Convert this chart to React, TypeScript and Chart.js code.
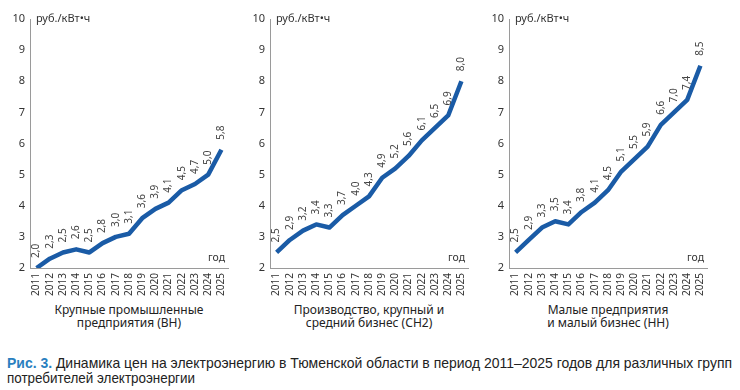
import React, { useEffect, useRef } from "react";
import { Chart, registerables } from "chart.js";

Chart.register(...registerables);

const years = ["2011","2012","2013","2014","2015","2016","2017","2018","2019","2020","2021","2022","2023","2024","2025"];
const seriesVN = [2.0, 2.3, 2.5, 2.6, 2.5, 2.8, 3.0, 3.1, 3.6, 3.9, 4.1, 4.5, 4.7, 5.0, 5.8];
const seriesSN2 = [2.5, 2.9, 3.2, 3.4, 3.3, 3.7, 4.0, 4.3, 4.9, 5.2, 5.6, 6.1, 6.5, 6.9, 8.0];
const seriesNN = [2.5, 2.9, 3.3, 3.5, 3.4, 3.8, 4.1, 4.5, 5.1, 5.5, 5.9, 6.6, 7.0, 7.4, 8.5];
const subtitles = [
  ["Крупные промышленные", "предприятия (ВН)"],
  ["Производство, крупный и", "средний бизнес (СН2)"],
  ["Малые  предприятия", "и малый бизнес (НН)"],
];
const unitLabel = "руб./кВт•ч";
const xUnitLabel = "год";
const captionLead = "Рис. 3.";
const captionLine1 = " Динамика цен на электроэнергию в Тюменской области в период 2011–2025 годов для различных групп";
const captionLine2 = "потребителей электроэнергии";

const FONT = "'Noto Sans', 'Open Sans', sans-serif";
const CAPFONT = "'Liberation Sans', Arial, sans-serif";
const LINE = "#1a5ba6";
const TEXT = "#333";

const labelsPlugin = {
  id: "panelLabels",
  afterDatasetsDraw(chart: any) {
    const { ctx, chartArea } = chart;
    const meta = chart.getDatasetMeta(0);
    const data = chart.data.datasets[0].data as number[];
    ctx.save();
    ctx.fillStyle = "#444";
    ctx.font = `10px ${FONT}`;
    meta.data.forEach((pt: any, i: number) => {
      ctx.save();
      ctx.translate(pt.x, pt.y - 10);
      ctx.rotate(-Math.PI / 2);
      ctx.textAlign = "left";
      ctx.textBaseline = "middle";
      ctx.fillText(data[i].toFixed(1).replace(".", ","), 0, 0);
      ctx.restore();
    });
    ctx.fillStyle = TEXT;
    ctx.font = `11px ${FONT}`;
    ctx.textAlign = "left";
    ctx.textBaseline = "middle";
    ctx.fillText(unitLabel, chartArea.left + 6, chartArea.top);
    ctx.textAlign = "right";
    ctx.font = `10.5px ${FONT}`;
    ctx.fillText(xUnitLabel, chartArea.right - 3, chartArea.bottom - 10);
    ctx.restore();
  },
};

function Panel({ data, left }: { data: number[]; left: number }) {
  const ref = useRef<HTMLCanvasElement>(null);
  useEffect(() => {
    if (!ref.current) return;
    const chart = new Chart(ref.current, {
      type: "line",
      data: {
        labels: years,
        datasets: [
          {
            data,
            borderColor: LINE,
            borderWidth: 4.5,
            pointRadius: 0,
            tension: 0,
            fill: false,
            borderJoinStyle: "round",
          },
        ],
      },
      plugins: [labelsPlugin],
      options: {
        animation: false,
        responsive: false,
        maintainAspectRatio: false,
        layout: { padding: { top: 19, left: 0, right: 12, bottom: 0 } },
        plugins: { legend: { display: false }, tooltip: { enabled: false }, title: { display: false } },
        scales: {
          x: {
            offset: true,
            grid: { display: false, drawTicks: false },
            border: { display: true, color: "#9a9a9a", width: 1 },
            ticks: {
              maxRotation: 90,
              minRotation: 90,
              autoSkip: false,
              padding: 5,
              color: TEXT,
              font: { family: FONT, size: 10 },
            },
            afterFit(scale: any) {
              scale.height = 32;
            },
          },
          y: {
            min: 2,
            max: 10,
            grid: { display: false, drawTicks: false },
            border: { display: true, color: "#9a9a9a", width: 1 },
            ticks: {
              stepSize: 1,
              padding: 5,
              color: TEXT,
              font: { family: FONT, size: 11 },
            },
            afterFit(scale: any) {
              scale.width = 30;
            },
          },
        },
      },
    } as any);
    return () => chart.destroy();
  }, [data]);
  return (
    <canvas
      ref={ref}
      width={240}
      height={300}
      style={{ position: "absolute", left, top: 0, width: 240, height: 300 }}
    />
  );
}

function FitLine({ target, top, children }: { target: number; top: number; children: React.ReactNode }) {
  const ref = useRef<HTMLSpanElement>(null);
  useEffect(() => {
    const el = ref.current;
    if (!el) return;
    el.style.transform = "none";
    const w = el.getBoundingClientRect().width;
    if (w > 0) el.style.transform = `scaleX(${target / w})`;
  }, [target]);
  return (
    <span
      ref={ref}
      style={{
        position: "absolute",
        left: 7,
        top,
        whiteSpace: "pre",
        transformOrigin: "0 0",
        fontFamily: CAPFONT,
        fontSize: 15,
        lineHeight: "15px",
        color: "#222",
      }}
    >
      {children}
    </span>
  );
}

export default function App() {
  const lefts = [0, 240, 479];
  const sets = [seriesVN, seriesSN2, seriesNN];
  return (
    <div style={{ position: "fixed", left: 0, top: 0, width: 740, height: 390, background: "#fff", overflow: "hidden" }}>
      {sets.map((d, i) => (
        <Panel key={i} data={d} left={lefts[i]} />
      ))}
      {subtitles.map((s, i) => (
        <div
          key={"s" + i}
          style={{
            position: "absolute",
            left: lefts[i] + 30 - 60,
            width: 318,
            top: 303,
            textAlign: "center",
            fontFamily: FONT,
            fontSize: 12,
            lineHeight: "13px",
            color: "#222",
          }}
        >
          {s[0]}
          <br />
          {s[1]}
        </div>
      ))}
      <FitLine target={725} top={355}>
        <span style={{ color: "#2a7fc0", fontWeight: "bold" }}>{captionLead}</span>
        {captionLine1}
      </FitLine>
      <FitLine target={188} top={370}>
        {captionLine2}
      </FitLine>
    </div>
  );
}
